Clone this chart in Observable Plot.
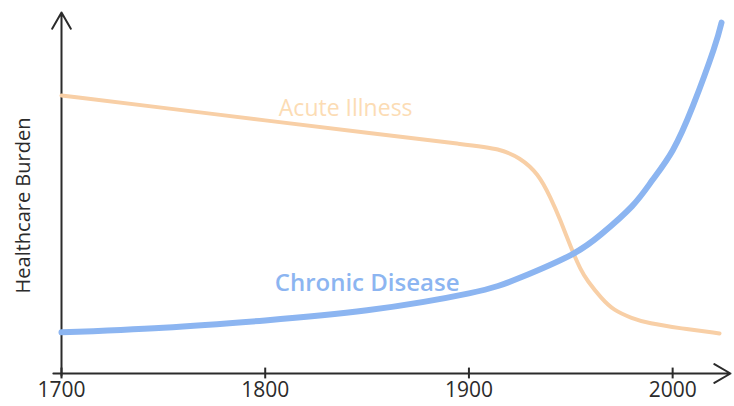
<!DOCTYPE html>
<html>
<head>
<meta charset="utf-8">
<script src="https://cdn.jsdelivr.net/npm/d3@7"></script>
<script src="https://cdn.jsdelivr.net/npm/@observablehq/plot@0.6"></script>
<style>
  html, body { margin: 0; padding: 0; background: #fff; }
</style>
</head>
<body>
<div id="chart"></div>
<script>
// Data (x = year, y = relative healthcare burden, 0-100)
const acuteYears  = [1700, 1750, 1800, 1850, 1900, 1915, 1925, 1934, 1940, 1945, 1950, 1955, 1958, 1965, 1971, 1980, 1988, 2004, 2023];
const acuteValues = [77.0, 73.6, 70.1, 66.7, 63.3, 62.3, 59.8, 55.4, 48.8, 42.4, 34.9, 28.5, 25.8, 20.8, 17.5, 15.3, 13.9, 12.5, 11.1];

const chronicYears  = [1700, 1750, 1800, 1850, 1900, 1925, 1950, 1965, 1980, 1990, 2000, 2010, 2020, 2024];
const chronicValues = [11.4, 12.7, 14.7, 17.5, 22.2, 26.5, 32.8, 38.6, 46.3, 53.5, 61.8, 74.2, 89.5, 97.2];

const xTicks = [1700, 1800, 1900, 2000];
const xDomain = [1700, 2028.4];
const yDomain = [0, 100];
const seriesLabels = ["Acute Illness", "Chronic Disease"];
const yLabel = "Healthcare Burden";

const acute = acuteYears.map((x, i) => ({x, y: acuteValues[i]}));
const chronic = chronicYears.map((x, i) => ({x, y: chronicValues[i]}));

const axisColor = "#2b2b2b";
const font = "'Open Sans', 'DejaVu Sans', sans-serif";

const chart = Plot.plot({
  width: 734,
  height: 406,
  marginLeft: 61,
  marginRight: 4,
  marginTop: 12,
  marginBottom: 33,
  style: {fontFamily: font, background: "#fff"},
  x: {domain: xDomain, axis: null},
  y: {domain: yDomain, axis: null},
  marks: [
    // x tick labels
    Plot.axisX({ticks: xTicks, tickSize: 0, tickPadding: 9, tickFormat: d => String(d), fontSize: 21, fill: axisColor, anchor: "bottom", label: null}),
    // ticks across the x axis
    Plot.ruleX(xTicks, {x: d => d, y1: -1.5, y2: 1.5, stroke: axisColor, strokeWidth: 2}),
    // x axis with arrow
    Plot.arrow([0], {x1: () => xDomain[0] - 4, x2: () => xDomain[1], y1: () => yDomain[0], y2: () => yDomain[0], stroke: axisColor, strokeWidth: 2, headLength: 14, bend: 0}),
    // y axis with arrow
    Plot.arrow([0], {x1: () => xDomain[0], x2: () => xDomain[0], y1: () => yDomain[0] - 0.6, y2: () => yDomain[1], stroke: axisColor, strokeWidth: 2, headLength: 14, bend: 0}),
    // series
    Plot.line(acute, {x: "x", y: "y", stroke: "#f8cfa6", strokeWidth: 4, curve: "basis"}),
    Plot.line(chronic, {x: "x", y: "y", stroke: "#8cb5f1", strokeWidth: 6, curve: "natural"}),
    // series labels
    Plot.text([seriesLabels[0]], {x: 1839.5, y: 73.3, text: d => d, fill: "#fcdcb4", fontSize: 23, fontFamily: font}),
    Plot.text([seriesLabels[1]], {x: 1850, y: 25.0, text: d => d, fill: "#8cb5f1", fontSize: 24, fontWeight: 600, fontFamily: font}),
    // y axis label
    Plot.text([yLabel], {frameAnchor: "left", textAnchor: "middle", dx: -38, dy: 12.5, rotate: -90, text: d => d, fill: axisColor, fontSize: 20, fontFamily: font})
  ]
});

document.getElementById("chart").appendChild(chart);
</script>
</body>
</html>
